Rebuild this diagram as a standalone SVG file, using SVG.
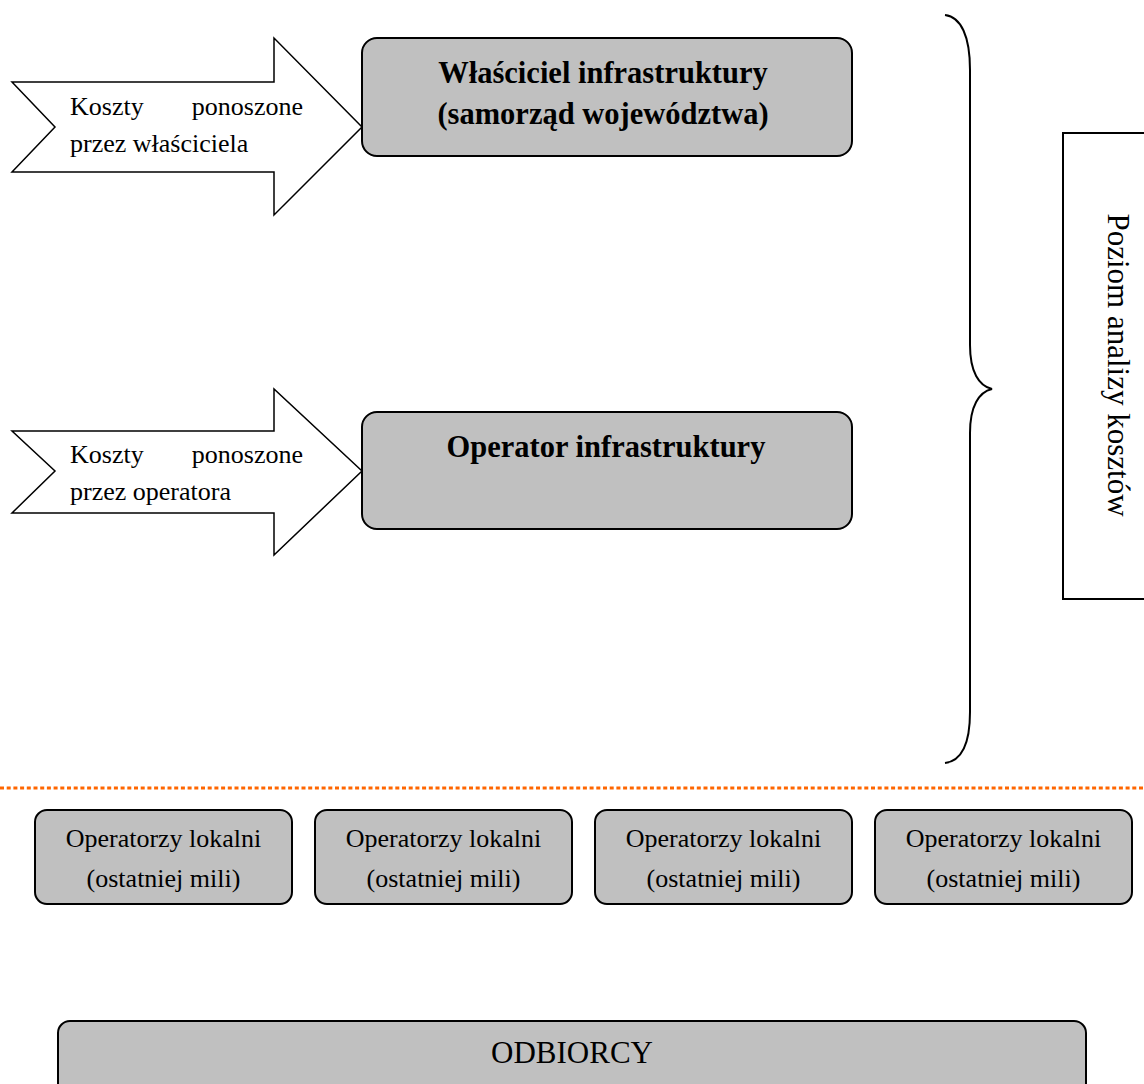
<svg xmlns="http://www.w3.org/2000/svg" width="1144" height="1084" viewBox="0 0 1144 1084">
  <style>
    text { font-family: "Liberation Serif", "Times New Roman", serif; fill: #000; }
    .box { fill: #C0C0C0; stroke: #000; stroke-width: 2; }
    .arrow { fill: #fff; stroke: #000; stroke-width: 1.5; stroke-linejoin: miter; }
    .title { font-size: 30.5px; font-weight: bold; text-anchor: middle; }
    .small { font-size: 26px; text-anchor: middle; }
    .cost { font-size: 26px; }
    .line { fill: none; stroke: #000; stroke-width: 2; }
  </style>

  <rect width="1144" height="1084" fill="#fff"/>

  <!-- cost inflow arrows -->
  <g id="arrow-owner-costs">
    <polygon class="arrow" points="12,82 274,82 274,38 362,127 274,215 274,172 12,172 55,127"/>
    <text class="cost" x="70" y="115">Koszty</text>
    <text class="cost" x="303" y="115" text-anchor="end">ponoszone</text>
    <text class="cost" x="70" y="152">przez właściciela</text>
  </g>

  <g id="arrow-operator-costs">
    <polygon class="arrow" points="12,431 274,431 274,389 362,471 274,555 274,513 12,513 55,471"/>
    <text class="cost" x="70" y="463">Koszty</text>
    <text class="cost" x="303" y="463" text-anchor="end">ponoszone</text>
    <text class="cost" x="70" y="500">przez operatora</text>
  </g>

  <!-- main actors -->
  <g id="owner">
    <rect class="box" x="362" y="38" width="490" height="118" rx="15"/>
    <text class="title" x="603" y="83">Właściciel infrastruktury</text>
    <text class="title" x="603" y="124">(samorząd województwa)</text>
  </g>

  <g id="operator">
    <rect class="box" x="362" y="412" width="490" height="117" rx="15"/>
    <text class="title" x="606" y="457">Operator infrastruktury</text>
  </g>

  <!-- brace grouping the analysed level -->
  <g id="brace">
    <path class="line" d="M945,15 C961,17 970,36 970,70 L970,345 C970,372 979,386 992,389 C979,392 970,406 970,433 L970,712 C970,745 961,761 945,763"/>
  </g>

  <g id="analysis-level">
    <rect class="line" x="1063" y="133" width="100" height="466"/>
    <text x="1108" y="365" font-size="31" text-anchor="middle" transform="rotate(90 1108 365)">Poziom analizy kosztów</text>
  </g>

  <!-- boundary of the analysis -->
  <g id="connectors">
    <line x1="0" y1="788" x2="1144" y2="788" stroke="#FF6600" stroke-width="3" stroke-dasharray="4 2.7"/>
  </g>

  <!-- local last-mile operators -->
  <g id="local-1">
    <rect class="box" x="35" y="810" width="257" height="94" rx="12"/>
    <text class="small" x="163.5" y="847">Operatorzy lokalni</text>
    <text class="small" x="163.5" y="887">(ostatniej mili)</text>
  </g>
  <g id="local-2">
    <rect class="box" x="315" y="810" width="257" height="94" rx="12"/>
    <text class="small" x="443.5" y="847">Operatorzy lokalni</text>
    <text class="small" x="443.5" y="887">(ostatniej mili)</text>
  </g>
  <g id="local-3">
    <rect class="box" x="595" y="810" width="257" height="94" rx="12"/>
    <text class="small" x="723.5" y="847">Operatorzy lokalni</text>
    <text class="small" x="723.5" y="887">(ostatniej mili)</text>
  </g>
  <g id="local-4">
    <rect class="box" x="875" y="810" width="257" height="94" rx="12"/>
    <text class="small" x="1003.5" y="847">Operatorzy lokalni</text>
    <text class="small" x="1003.5" y="887">(ostatniej mili)</text>
  </g>

  <!-- end users -->
  <g id="recipients">
    <rect class="box" x="58" y="1021" width="1028" height="100" rx="12"/>
    <text x="572" y="1063" font-size="31" text-anchor="middle">ODBIORCY</text>
  </g>
</svg>
